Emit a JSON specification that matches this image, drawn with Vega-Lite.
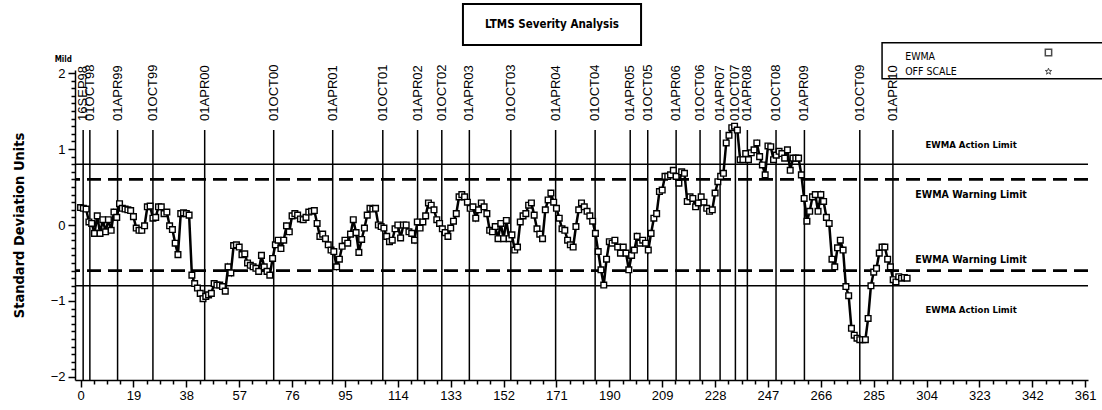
{
 "$schema": "https://vega.github.io/schema/vega-lite/v6.json",
 "width": 1013,
 "height": 310,
 "autosize": {"type": "none"},
 "padding": {"left": 75, "top": 70, "right": 14, "bottom": 30},
 "background": "white",
 "config": {
  "view": {"stroke": null},
  "axis": {"domainColor": "black", "tickColor": "black", "labelColor": "black", "titleColor": "black", "domainWidth": 1.5, "tickWidth": 1.5, "grid": false, "labelFont": "Liberation Sans", "labelFontSize": 13}
 },
 "datasets": {
  "limits": [
   {"value": 0.8, "kind": "Action"},
   {"value": 0.6, "kind": "Warning"},
   {"value": -0.6, "kind": "Warning"},
   {"value": -0.8, "kind": "Action"}
  ],
  "dates": [
   {"t": 0.93, "label": "16SEP98"},
   {"t": 3.34, "label": "01OCT98"},
   {"t": 13.3, "label": "01APR99"},
   {"t": 26.0, "label": "01OCT99"},
   {"t": 44.6, "label": "01APR00"},
   {"t": 69.4, "label": "01OCT00"},
   {"t": 90.6, "label": "01APR01"},
   {"t": 108.6, "label": "01OCT01"},
   {"t": 121.1, "label": "01APR02"},
   {"t": 129.8, "label": "01OCT02"},
   {"t": 139.7, "label": "01APR03"},
   {"t": 154.6, "label": "01OCT03"},
   {"t": 170.7, "label": "01APR04"},
   {"t": 184.9, "label": "01OCT04"},
   {"t": 197.5, "label": "01APR05"},
   {"t": 203.8, "label": "01OCT05"},
   {"t": 214.0, "label": "01APR06"},
   {"t": 222.6, "label": "01OCT06"},
   {"t": 229.8, "label": "01APR07"},
   {"t": 235.3, "label": "01OCT07"},
   {"t": 239.6, "label": "01APR08"},
   {"t": 249.9, "label": "01OCT08"},
   {"t": 260.1, "label": "01APR09"},
   {"t": 280.0, "label": "01OCT09"},
   {"t": 291.9, "label": "01APR10"}
  ],
  "ewma": [
   {"i":0,"v":0.23},{"i":1,"v":0.22},{"i":2,"v":0.21},{"i":3,"v":0.04},{"i":4,"v":0.02},{"i":5,"v":-0.11},{"i":6,"v":0.12},{"i":7,"v":-0.11},{"i":8,"v":0.07},{"i":9,"v":-0.09},
   {"i":10,"v":0.07},{"i":11,"v":-0.07},{"i":12,"v":0.17},{"i":13,"v":0.10},{"i":14,"v":0.28},{"i":15,"v":0.22},{"i":16,"v":0.21},{"i":17,"v":0.20},{"i":18,"v":0.19},{"i":19,"v":0.11},
   {"i":20,"v":-0.04},{"i":21,"v":-0.07},{"i":22,"v":-0.07},{"i":23,"v":-0.01},{"i":24,"v":0.24},{"i":25,"v":0.25},{"i":26,"v":0.09},{"i":27,"v":0.10},{"i":28,"v":0.24},{"i":29,"v":0.24},
   {"i":30,"v":0.15},{"i":31,"v":0.17},{"i":32,"v":-0.01},{"i":33,"v":-0.06},{"i":34,"v":-0.24},{"i":35,"v":-0.39},{"i":36,"v":0.15},{"i":37,"v":0.16},{"i":38,"v":0.15},{"i":39,"v":0.13},
   {"i":40,"v":-0.66},{"i":41,"v":-0.77},{"i":42,"v":-0.83},{"i":43,"v":-0.90},{"i":44,"v":-0.97},{"i":45,"v":-0.94},{"i":46,"v":-0.92},{"i":47,"v":-0.90},{"i":48,"v":-0.77},{"i":49,"v":-0.79},
   {"i":50,"v":-0.79},{"i":51,"v":-0.81},{"i":52,"v":-0.87},{"i":53,"v":-0.55},{"i":54,"v":-0.63},{"i":55,"v":-0.27},{"i":56,"v":-0.26},{"i":57,"v":-0.29},{"i":58,"v":-0.39},{"i":59,"v":-0.38},
   {"i":60,"v":-0.50},{"i":61,"v":-0.53},{"i":62,"v":-0.55},{"i":63,"v":-0.57},{"i":64,"v":-0.61},{"i":65,"v":-0.40},{"i":66,"v":-0.55},{"i":67,"v":-0.61},{"i":68,"v":-0.66},{"i":69,"v":-0.44},
   {"i":70,"v":-0.26},{"i":71,"v":-0.20},{"i":72,"v":-0.31},{"i":73,"v":-0.20},{"i":74,"v":-0.01},{"i":75,"v":-0.09},{"i":76,"v":0.12},{"i":77,"v":0.15},{"i":78,"v":0.13},{"i":79,"v":0.08},
   {"i":80,"v":0.07},{"i":81,"v":0.10},{"i":82,"v":0.17},{"i":83,"v":0.18},{"i":84,"v":0.19},{"i":85,"v":0.02},{"i":86,"v":-0.15},{"i":87,"v":-0.12},{"i":88,"v":-0.18},{"i":89,"v":-0.26},
   {"i":90,"v":-0.33},{"i":91,"v":-0.35},{"i":92,"v":-0.55},{"i":93,"v":-0.45},{"i":94,"v":-0.28},{"i":95,"v":-0.20},{"i":96,"v":-0.24},{"i":97,"v":-0.12},{"i":98,"v":0.07},{"i":99,"v":-0.10},
   {"i":100,"v":-0.36},{"i":101,"v":-0.19},{"i":102,"v":-0.04},{"i":103,"v":0.13},{"i":104,"v":0.22},{"i":105,"v":0.21},{"i":106,"v":0.22},{"i":107,"v":0.00},{"i":108,"v":-0.02},{"i":109,"v":-0.04},
   {"i":110,"v":-0.15},{"i":111,"v":-0.22},{"i":112,"v":-0.20},{"i":113,"v":-0.05},{"i":114,"v":0.00},{"i":115,"v":-0.17},{"i":116,"v":0.00},{"i":117,"v":0.00},{"i":118,"v":-0.09},{"i":119,"v":-0.11},
   {"i":120,"v":-0.20},{"i":121,"v":0.04},{"i":122,"v":-0.04},{"i":123,"v":0.04},{"i":124,"v":0.12},{"i":125,"v":0.29},{"i":126,"v":0.26},{"i":127,"v":0.20},{"i":128,"v":0.07},{"i":129,"v":0.02},
   {"i":130,"v":-0.05},{"i":131,"v":-0.10},{"i":132,"v":-0.15},{"i":133,"v":-0.04},{"i":134,"v":0.05},{"i":135,"v":0.15},{"i":136,"v":0.37},{"i":137,"v":0.40},{"i":138,"v":0.37},{"i":139,"v":0.30},
   {"i":140,"v":0.22},{"i":141,"v":0.24},{"i":142,"v":0.09},{"i":143,"v":0.20},{"i":144,"v":0.29},{"i":145,"v":0.24},{"i":146,"v":0.15},{"i":147,"v":-0.07},{"i":148,"v":-0.09},{"i":149,"v":-0.02},
   {"i":150,"v":-0.18},{"i":151,"v":0.02},{"i":152,"v":-0.18},{"i":153,"v":0.06},{"i":154,"v":-0.18},{"i":155,"v":-0.13},{"i":156,"v":-0.33},{"i":157,"v":-0.29},{"i":158,"v":0.04},{"i":159,"v":0.12},
   {"i":160,"v":0.15},{"i":161,"v":0.26},{"i":162,"v":0.29},{"i":163,"v":0.13},{"i":164,"v":-0.05},{"i":165,"v":-0.12},{"i":166,"v":-0.18},{"i":167,"v":0.20},{"i":168,"v":0.33},{"i":169,"v":0.42},
   {"i":170,"v":0.30},{"i":171,"v":0.22},{"i":172,"v":0.09},{"i":173,"v":-0.05},{"i":174,"v":-0.07},{"i":175,"v":-0.20},{"i":176,"v":-0.26},{"i":177,"v":-0.29},{"i":178,"v":-0.02},{"i":179,"v":0.20},
   {"i":180,"v":0.29},{"i":181,"v":0.24},{"i":182,"v":0.18},{"i":183,"v":0.12},{"i":184,"v":0.05},{"i":185,"v":-0.11},{"i":186,"v":-0.35},{"i":187,"v":-0.59},{"i":188,"v":-0.79},{"i":189,"v":-0.45},
   {"i":190,"v":-0.22},{"i":191,"v":-0.24},{"i":192,"v":-0.20},{"i":193,"v":-0.29},{"i":194,"v":-0.37},{"i":195,"v":-0.29},{"i":196,"v":-0.37},{"i":197,"v":-0.59},{"i":198,"v":-0.40},{"i":199,"v":-0.33},
   {"i":200,"v":-0.15},{"i":201,"v":-0.24},{"i":202,"v":-0.20},{"i":203,"v":-0.24},{"i":204,"v":-0.33},{"i":205,"v":-0.11},{"i":206,"v":0.09},{"i":207,"v":0.15},{"i":208,"v":0.44},{"i":209,"v":0.46},
   {"i":210,"v":0.64},{"i":211,"v":0.64},{"i":212,"v":0.66},{"i":213,"v":0.72},{"i":214,"v":0.64},{"i":215,"v":0.55},{"i":216,"v":0.70},{"i":217,"v":0.68},{"i":218,"v":0.31},{"i":219,"v":0.37},
   {"i":220,"v":0.35},{"i":221,"v":0.24},{"i":222,"v":0.29},{"i":223,"v":0.37},{"i":224,"v":0.30},{"i":225,"v":0.22},{"i":226,"v":0.18},{"i":227,"v":0.20},{"i":228,"v":0.42},{"i":229,"v":0.57},
   {"i":230,"v":0.64},{"i":231,"v":0.68},{"i":232,"v":1.08},{"i":233,"v":1.18},{"i":234,"v":1.28},{"i":235,"v":1.30},{"i":236,"v":1.25},{"i":237,"v":0.86},{"i":238,"v":0.86},{"i":239,"v":0.94},
   {"i":240,"v":0.86},{"i":241,"v":0.95},{"i":242,"v":0.99},{"i":243,"v":1.08},{"i":244,"v":0.90},{"i":245,"v":0.79},{"i":246,"v":0.66},{"i":247,"v":1.04},{"i":248,"v":1.03},{"i":249,"v":0.86},
   {"i":250,"v":0.92},{"i":251,"v":0.97},{"i":252,"v":0.94},{"i":253,"v":0.88},{"i":254,"v":0.99},{"i":255,"v":0.72},{"i":256,"v":0.88},{"i":257,"v":0.88},{"i":258,"v":0.88},{"i":259,"v":0.66},
   {"i":260,"v":0.35},{"i":261,"v":0.05},{"i":262,"v":0.18},{"i":263,"v":0.37},{"i":264,"v":0.40},{"i":265,"v":0.18},{"i":266,"v":0.40},{"i":267,"v":0.31},{"i":268,"v":0.10},{"i":269,"v":0.02},
   {"i":270,"v":-0.45},{"i":271,"v":-0.55},{"i":272,"v":-0.30},{"i":273,"v":-0.20},{"i":274,"v":-0.33},{"i":275,"v":-0.81},{"i":276,"v":-0.93},{"i":277,"v":-1.36},{"i":278,"v":-1.45},{"i":279,"v":-1.49},
   {"i":280,"v":-1.51},{"i":281,"v":-1.51},{"i":282,"v":-1.51},{"i":283,"v":-1.23},{"i":284,"v":-0.80},{"i":285,"v":-0.62},{"i":286,"v":-0.57},{"i":287,"v":-0.37},{"i":288,"v":-0.29},{"i":289,"v":-0.29},
   {"i":290,"v":-0.45},{"i":291,"v":-0.55},{"i":292,"v":-0.72},{"i":293,"v":-0.75},{"i":294,"v":-0.68},{"i":295,"v":-0.70},{"i":296,"v":-0.69},{"i":297,"v":-0.70}
  ]
 },
 "resolve": {"scale": {"x": "independent", "y": "independent"}, "axis": {"x": "independent", "y": "independent"}},
 "layer": [
  {
   "layer": [
    {
     "data": {"name": "limits"},
     "mark": {"type": "rule", "color": "black"},
     "encoding": {
      "y": {"field": "value", "type": "quantitative", "scale": {"domain": [-2.04, 2.04], "nice": false, "zero": false}},
      "strokeDash": {"field": "kind", "type": "nominal", "scale": {"domain": ["Action", "Warning"], "range": [[1, 0], [14, 7]]}, "legend": null},
      "strokeWidth": {"field": "kind", "type": "nominal", "scale": {"domain": ["Action", "Warning"], "range": [1.5, 2.8]}, "legend": null}
     }
    },
    {
     "data": {"name": "dates"},
     "mark": {"type": "rule", "color": "black", "strokeWidth": 1.5},
     "encoding": {
      "x": {"field": "t", "type": "quantitative", "scale": {"domain": [-2, 362], "nice": false, "zero": false}},
      "y": {"datum": 1.25, "type": "quantitative", "scale": {"domain": [-2.04, 2.04], "nice": false, "zero": false}},
      "y2": {"datum": -2.04}
     }
    },
    {
     "data": {"name": "dates"},
     "mark": {"type": "text", "angle": 270, "align": "left", "baseline": "middle", "font": "Liberation Sans", "fontSize": 13, "color": "black"},
     "encoding": {
      "x": {"field": "t", "type": "quantitative", "scale": {"domain": [-2, 362], "nice": false, "zero": false}},
      "y": {"datum": 1.37, "type": "quantitative", "scale": {"domain": [-2.04, 2.04], "nice": false, "zero": false}},
      "text": {"field": "label"}
     }
    },
    {
     "data": {"name": "ewma"},
     "mark": {"type": "line", "color": "black", "strokeWidth": 2.5, "point": {"shape": "square", "filled": true, "fill": "white", "stroke": "black", "strokeWidth": 1.4, "size": 32}},
     "encoding": {
      "x": {"field": "i", "type": "quantitative", "scale": {"domain": [-2, 362], "nice": false, "zero": false},
       "axis": {"orient": "bottom", "title": null, "values": [0,19,38,57,76,95,114,133,152,171,190,209,228,247,266,285,304,323,342,361], "format": "d", "tickSize": 7, "labelFlush": false, "labelOverlap": false, "labelPadding": 2}},
      "y": {"field": "v", "type": "quantitative", "scale": {"domain": [-2.04, 2.04], "nice": false, "zero": false},
       "axis": {"orient": "left", "title": "Standard Deviation Units", "titleFont": "DejaVu Sans Condensed, Liberation Sans", "titleFontWeight": "bold", "titleFontSize": 14.5, "titlePadding": 24,
        "values": [-2, -1, 0, 1, 2], "format": "d", "tickSize": 7, "labelOverlap": false, "labelFlush": false, "labelPadding": 3}}
     }
    },
    {
     "data": {"values": [{}]},
     "mark": {"type": "text", "align": "center", "baseline": "middle", "font": "DejaVu Sans Condensed, Liberation Sans", "fontWeight": "bold", "fontSize": 9.5, "color": "black"},
     "encoding": {"x": {"datum": 320}, "y": {"datum": 1.054}, "text": {"value": "EWMA Action Limit"}}
    },
    {
     "data": {"values": [{}]},
     "mark": {"type": "text", "align": "center", "baseline": "middle", "font": "DejaVu Sans Condensed, Liberation Sans", "fontWeight": "bold", "fontSize": 10.5, "color": "black"},
     "encoding": {"x": {"datum": 320}, "y": {"datum": 0.395}, "text": {"value": "EWMA Warning Limit"}}
    },
    {
     "data": {"values": [{}]},
     "mark": {"type": "text", "align": "center", "baseline": "middle", "font": "DejaVu Sans Condensed, Liberation Sans", "fontWeight": "bold", "fontSize": 10.5, "color": "black"},
     "encoding": {"x": {"datum": 320}, "y": {"datum": -0.461}, "text": {"value": "EWMA Warning Limit"}}
    },
    {
     "data": {"values": [{}]},
     "mark": {"type": "text", "align": "center", "baseline": "middle", "font": "DejaVu Sans Condensed, Liberation Sans", "fontWeight": "bold", "fontSize": 9.5, "color": "black"},
     "encoding": {"x": {"datum": 320}, "y": {"datum": -1.12}, "text": {"value": "EWMA Action Limit"}}
    },
    {
     "data": {"values": [{}]},
     "mark": {"type": "rect", "fill": "white", "stroke": "black", "strokeWidth": 2},
     "encoding": {"x": {"datum": 137.4}, "x2": {"datum": 201.4}, "y": {"datum": 2.91}, "y2": {"datum": 2.37}}
    },
    {
     "data": {"values": [{}]},
     "mark": {"type": "text", "align": "center", "baseline": "middle", "font": "DejaVu Sans Condensed, Liberation Sans", "fontWeight": "bold", "fontSize": 11.5, "color": "black"},
     "encoding": {"x": {"datum": 169.4}, "y": {"datum": 2.635}, "text": {"value": "LTMS Severity Analysis"}}
    },
    {
     "data": {"values": [{}]},
     "mark": {"type": "rect", "fill": "white", "fillOpacity": 0, "stroke": "black", "strokeWidth": 1.5},
     "encoding": {"x": {"datum": 288.0}, "x2": {"datum": 372}, "y": {"datum": 2.398}, "y2": {"datum": 1.924}}
    },
    {
     "data": {"values": [{}]},
     "mark": {"type": "text", "align": "left", "baseline": "middle", "font": "DejaVu Sans Condensed, Liberation Sans", "fontSize": 10.5, "color": "black"},
     "encoding": {"x": {"datum": 296.3}, "y": {"datum": 2.217}, "text": {"value": "EWMA"}}
    },
    {
     "data": {"values": [{}]},
     "mark": {"type": "text", "align": "left", "baseline": "middle", "font": "DejaVu Sans Condensed, Liberation Sans", "fontSize": 10.5, "color": "black"},
     "encoding": {"x": {"datum": 296.3}, "y": {"datum": 2.02}, "text": {"value": "OFF SCALE"}}
    },
    {
     "data": {"values": [{}]},
     "mark": {"type": "point", "shape": "square", "filled": false, "stroke": "black", "strokeWidth": 1.5, "size": 40},
     "encoding": {"x": {"datum": 347.8}, "y": {"datum": 2.27}}
    },
    {
     "data": {"values": [{}]},
     "mark": {"type": "point", "shape": "M0,-1L0.235,-0.324L0.951,-0.309L0.380,0.124L0.588,0.809L0,0.4L-0.588,0.809L-0.380,0.124L-0.951,-0.309L-0.235,-0.324Z", "filled": false, "stroke": "black", "strokeWidth": 1, "size": 45},
     "encoding": {"x": {"datum": 347.8}, "y": {"datum": 2.02}}
    },
    {
     "data": {"values": [{}]},
     "mark": {"type": "text", "align": "center", "baseline": "middle", "font": "DejaVu Sans Condensed, Liberation Sans", "fontWeight": "bold", "fontSize": 8, "color": "black"},
     "encoding": {"x": {"datum": -6.2}, "y": {"datum": 2.17}, "text": {"value": "Mild"}}
    }
   ]
  },
  {
   "data": {"values": [{}]},
   "mark": {"type": "point", "opacity": 0},
   "encoding": {
    "x": {"datum": 0, "type": "quantitative", "scale": {"domain": [-2, 362], "nice": false, "zero": false},
     "axis": {"orient": "bottom", "title": null, "labels": false, "domain": false, "tickSize": 4,
      "values": [4.75,9.5,14.25,23.75,28.5,33.25,42.75,47.5,52.25,61.75,66.5,71.25,80.75,85.5,90.25,99.75,104.5,109.25,118.75,123.5,128.25,137.75,142.5,147.25,156.75,161.5,166.25,175.75,180.5,185.25,194.75,199.5,204.25,213.75,218.5,223.25,232.75,237.5,242.25,251.75,256.5,261.25,270.75,275.5,280.25,289.75,294.5,299.25,308.75,313.5,318.25,327.75,332.5,337.25,346.75,351.5,356.25]}},
    "y": {"datum": 0, "type": "quantitative", "scale": {"domain": [-2.04, 2.04], "nice": false, "zero": false},
     "axis": {"orient": "left", "title": null, "labels": false, "domain": false, "tickSize": 4,
      "values": [-1.9,-1.8,-1.7,-1.6,-1.5,-1.4,-1.3,-1.2,-1.1,-0.9,-0.8,-0.7,-0.6,-0.5,-0.4,-0.3,-0.2,-0.1,0.1,0.2,0.3,0.4,0.5,0.6,0.7,0.8,0.9,1.1,1.2,1.3,1.4,1.5,1.6,1.7,1.8,1.9]}}
   }
  }
 ]
}
